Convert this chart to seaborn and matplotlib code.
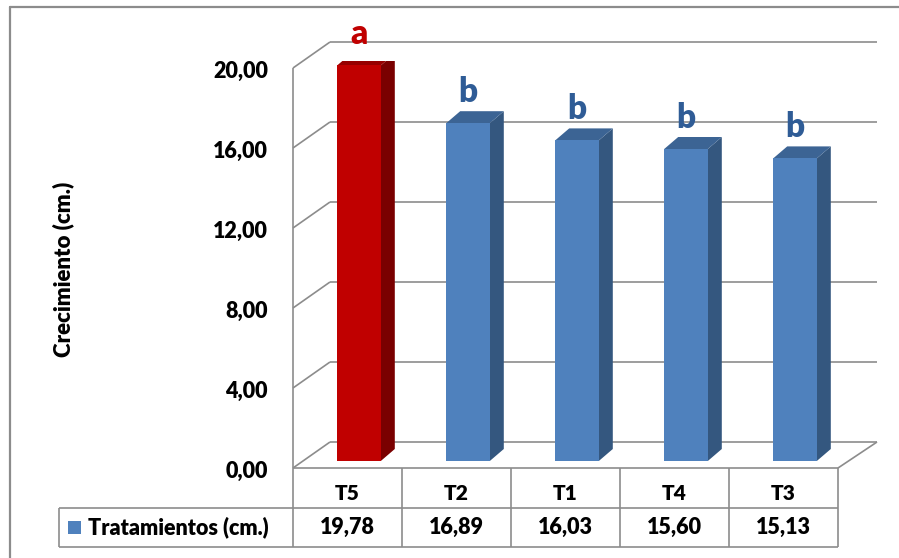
import matplotlib
matplotlib.use("Agg")
import matplotlib.pyplot as plt
import pandas as pd
import seaborn as sns
from matplotlib.patches import Polygon, Rectangle
from matplotlib.lines import Line2D

# ---- data -------------------------------------------------------------
tratamientos = ["T5", "T2", "T1", "T4", "T3"]
crecimiento = [19.78, 16.89, 16.03, 15.60, 15.13]
letras = ["a", "b", "b", "b", "b"]
y_ticks = [0, 4, 8, 12, 16, 20]
serie = "Tratamientos (cm.)"
eje_y = "Crecimiento (cm.)"

# ---- styling ----------------------------------------------------------
sns.set_theme(style="white")
plt.rcParams["font.family"] = ["Lato", "DejaVu Sans"]
PESO = 800

cara = {"a": "#C00000", "b": "#4F81BD"}
lado = {"a": "#7A0000", "b": "#34577F"}
tapa = {"a": "#960000", "b": "#3C6494"}
texto_letra = {"a": "#C00000", "b": "#2F5C96"}
gris = "#8C8C8C"

W, H = 899, 558
fig = plt.figure(figsize=(W / 100, H / 100), dpi=100)

# plot plane (front faces of the bars); pixel geometry of the frame
x0_px, x1_px = 304.5, 849.5
y0_px, y1_px = 461.0, 61.0
ax = fig.add_axes([x0_px / W, 1 - y0_px / H, (x1_px - x0_px) / W, (y0_px - y1_px) / H])

n = len(tratamientos)
ux = n / (x1_px - x0_px)          # category units per pixel
uy = 20 / (y0_px - y1_px)         # value units per pixel


def px(dx, dy):
    """pixel offset (right, up) -> data offset"""
    return dx * ux, dy * uy


df = pd.DataFrame({"Tratamiento": tratamientos, "Crecimiento": crecimiento, "Letra": letras})
palette = {t: cara[l] for t, l in zip(tratamientos, letras)}
sns.barplot(data=df, x="Tratamiento", y="Crecimiento", hue="Tratamiento",
            palette=palette, legend=False, width=0.4, saturation=1,
            linewidth=0, ax=ax, zorder=3)
ax.set_xlim(-0.5, n - 0.5)
ax.set_ylim(0, 20)
for s in ax.spines.values():
    s.set_visible(False)
ax.set_xticks([])
ax.set_yticks([])
ax.set_xlabel("")
ax.set_ylabel("")
ax.patch.set_alpha(0)

# ---- 3D walls ---------------------------------------------------------
front_off = px(-11.5, -7)      # front edge of the floor/left wall
back_off = px(25.5, 19)        # back wall
right_back = px(27.5, 19)
xl, xr = -0.5, n - 0.5

def line(xs, ys, **kw):
    ax.add_line(Line2D(xs, ys, color=gris, lw=1.2, clip_on=False,
                       solid_capstyle="butt", **kw))

for v in y_ticks:
    fx, fy = xl + front_off[0], v + front_off[1]
    bx, by = xl + back_off[0], v + back_off[1]
    line([fx, bx], [fy, by], zorder=1)
    line([bx, xr + right_back[0]], [by, by], zorder=1)
# left front edge
line([xl + front_off[0]] * 2, [front_off[1], 20 + front_off[1]], zorder=1)
# floor front edge and right diagonal
line([xl + front_off[0], xr + front_off[0]], [front_off[1]] * 2, zorder=4)
line([xr + front_off[0], xr + right_back[0]], [front_off[1], back_off[1]], zorder=1)

# ---- bar sides, tops and letters -------------------------------------
dep = px(14, 12)
for i, (p, l, v) in enumerate(zip(ax.patches, letras, crecimiento)):
    x_l = p.get_x()
    x_r = x_l + p.get_width()
    h = p.get_height()
    ax.add_patch(Polygon([(x_r, 0), (x_r + dep[0], dep[1]),
                          (x_r + dep[0], h + dep[1]), (x_r, h)],
                         closed=True, fc=lado[l], ec="none", zorder=2.5))
    ax.add_patch(Polygon([(x_l, h), (x_r, h), (x_r + dep[0], h + dep[1]),
                          (x_l + dep[0], h + dep[1])],
                         closed=True, fc=tapa[l], ec="none", zorder=2.6))
    ax.text(i, h + px(0, 21)[1], l, ha="center", va="baseline",
            fontsize=24, fontweight=PESO, color=texto_letra[l], clip_on=False)

# ---- y tick labels on the front edge ----------------------------------
for v in y_ticks:
    ax.text(xl - 36.5 * ux, v - 10.5 * uy, f"{v:.2f}".replace(".", ","),
            ha="right", va="center", fontsize=15.5, fontweight=PESO,
            color="black", clip_on=False)

fig.text(63 / W, 1 - 269 / H, eje_y, rotation=90, ha="center", va="center",
         fontsize=16, fontweight=PESO, color="black")

# ---- data table -------------------------------------------------------
row_top = front_off[1]
row_mid = -(508 - y0_px) * uy
row_bot = -(547 - y0_px) * uy
col0 = xl + front_off[0]
for k in range(n + 1):
    line([col0 + k, col0 + k], [row_top, row_bot], zorder=4)
line([col0, col0 + n], [row_mid] * 2, zorder=4)
leg_left = col0 - (293 - 59) * ux
line([leg_left, col0 + n], [row_bot] * 2, zorder=4)
line([leg_left, col0], [row_mid] * 2, zorder=4)
line([leg_left] * 2, [row_mid, row_bot], zorder=4)

hdr_y = -(493 - y0_px) * uy
val_y = -(527.5 - y0_px) * uy
for i, (t, v) in enumerate(zip(tratamientos, crecimiento)):
    cx = col0 + i + 0.5
    ax.text(cx, hdr_y, t, ha="center", va="center", fontsize=15,
            fontweight=PESO, color="black", clip_on=False)
    ax.text(cx, val_y, f"{v:.2f}".replace(".", ","), ha="center", va="center",
            fontsize=15.5, fontweight=PESO, color="black", clip_on=False)

# legend key and series name
ax.add_patch(Rectangle((col0 - (293 - 68) * ux, val_y - 6.5 * uy), 13 * ux, 13 * uy,
                       fc=cara["b"], ec="none", clip_on=False, zorder=4))
ax.text(col0 - (293 - 88) * ux, val_y, serie, ha="left", va="center",
        fontsize=15.5, fontweight=PESO, color="black", clip_on=False)

# ---- outer chart border -----------------------------------------------
fig.add_artist(Line2D([10 / W, 10 / W], [0, 1 - 7 / H], color=gris, lw=1.6,
                      transform=fig.transFigure))
fig.add_artist(Line2D([10 / W, 1], [1 - 7 / H, 1 - 7 / H], color=gris, lw=1.6,
                      transform=fig.transFigure))

fig.savefig("out.png", dpi=100)
